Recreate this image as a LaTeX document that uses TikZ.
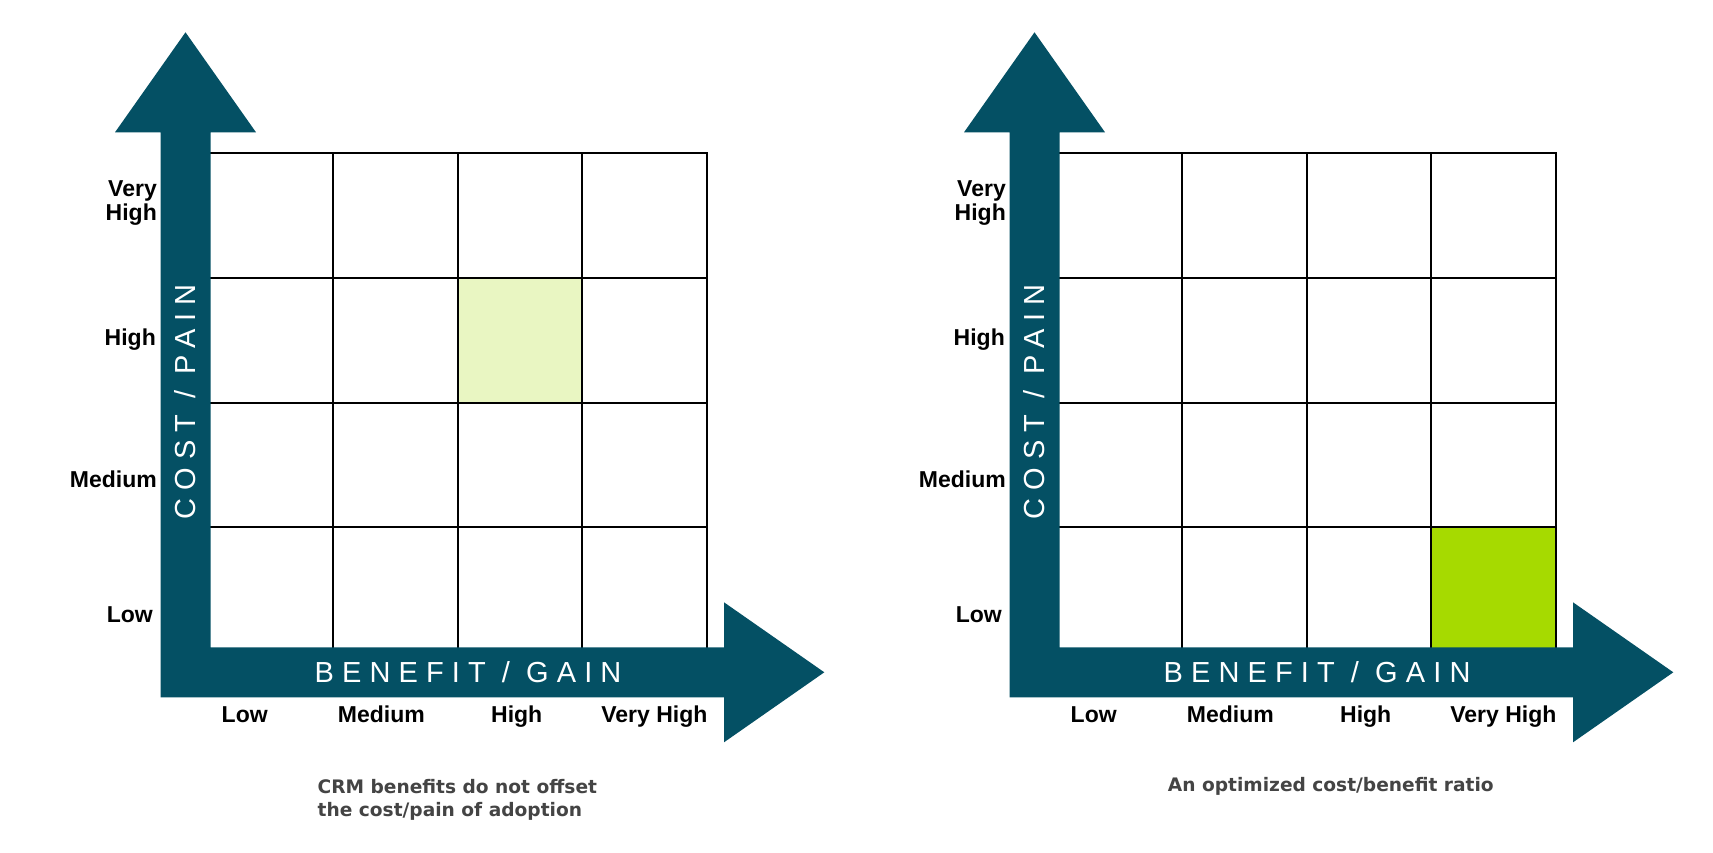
\documentclass[tikz,border=0pt]{standalone}
\usepackage{fontspec}
\setmainfont{Liberation Sans}
\newfontfamily\axisfont[LetterSpace=28]{Liberation Sans}
\newfontfamily\notefont{DejaVu Sans}
\definecolor{axisteal}{RGB}{4,80,100}
\definecolor{palegreen}{RGB}{233,246,194}
\definecolor{brightlime}{RGB}{166,218,0}
\definecolor{notegray}{RGB}{68,68,68}
\tikzset{
  axisarrow/.style={fill=axisteal, draw=none},
  gridline/.style={line width=2pt, black, line cap=rect},
  level/.style={font=\fontsize{23}{23.3}\selectfont\bfseries, inner sep=0pt},
  axistitle/.style={font=\fontsize{29}{29}\axisfont, text=white, inner sep=0pt},
  note/.style={font=\fontsize{18.6}{23.4}\notefont\bfseries, text=notegray, inner sep=0pt, align=left},
}
\begin{document}
\begin{tikzpicture}[x=1pt, y=-1pt]
\useasboundingbox[fill=white] (0,0) rectangle (1713,852);

% highlighted cells
\fill[palegreen] (457.5,278) rectangle (582.25,402.5);
\fill[brightlime] (1430.5,527.25) rectangle (1555,652);

\foreach \p/\dx in {a/0, b/849} {
\begin{scope}[xshift=\dx pt]
% grid
\foreach \i in {0,...,4} {
  \draw[gridline] (208+124.75*\i,153) -- (208+124.75*\i,652);
  \draw[gridline] (208,153+124.75*\i) -- (707,153+124.75*\i);
}
% axes
\fill[axisarrow] (160.5,697.3) -- (160.5,132.3) -- (115,132.3) -- (185.5,32.3)
  -- (256,132.3) -- (210.5,132.3) -- (210.5,647.3) -- (724,647.3) -- (724,602.3)
  -- (824.3,672.3) -- (724,742.3) -- (724,697.3) -- cycle;
\node[axistitle] (\p-benefit) at (468,672.3) {BENEFIT / GAIN};
\node[axistitle, rotate=90] (\p-cost) at (185.5,401.7) {COST / PAIN};
% cost levels
\node[level, anchor=base east, align=right] (\p-cvhigh) at (157,220) {Very\\High};
\node[level, anchor=base east] (\p-chigh) at (156,345) {High};
\node[level, anchor=base east] (\p-cmed) at (157,487) {Medium};
\node[level, anchor=base east] (\p-clow) at (153,622.7) {Low};
% benefit levels
\node[level, anchor=base] (\p-blow) at (244.7,722.3) {Low};
\node[level, anchor=base] (\p-bmed) at (381.3,722.3) {Medium};
\node[level, anchor=base] (\p-bhigh) at (516.7,722.3) {High};
\node[level, anchor=base] (\p-bvhigh) at (654.4,722.3) {Very High};
\end{scope}
}

\node[note, anchor=base west] (a-note) at (317.5,816.7) {CRM benefits do not offset\\the cost/pain of adoption};
\node[note, anchor=base] (b-note) at (1330.8,791.7) {An optimized cost/benefit ratio};
\end{tikzpicture}
\end{document}
